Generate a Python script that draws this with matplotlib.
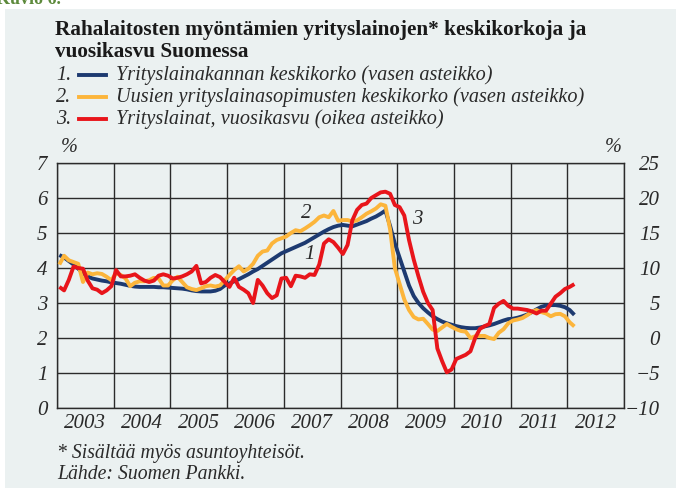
import numpy as np
import matplotlib.pyplot as plt
from matplotlib.lines import Line2D
from matplotlib.patches import Rectangle

# Kuukausiaineisto 1/2003 - 2/2012
# 1. Yrityslainakannan keskikorko (vasen asteikko)
blue = [4.37, 4.30, 4.20, 4.10, 3.98, 3.86, 3.76, 3.70, 3.67, 3.64, 3.62, 3.59,
        3.57, 3.55, 3.52, 3.49, 3.47, 3.46, 3.46, 3.46, 3.46, 3.45, 3.45, 3.44,
        3.43, 3.42, 3.41, 3.39, 3.36, 3.34, 3.33, 3.33, 3.33, 3.35, 3.40, 3.50,
        3.56, 3.62, 3.68, 3.75, 3.82, 3.90, 3.97, 4.06, 4.15, 4.24, 4.33, 4.42,
        4.48, 4.54, 4.60, 4.66, 4.72, 4.80, 4.88, 4.96, 5.04, 5.11, 5.17, 5.21,
        5.23, 5.21, 5.19, 5.24, 5.29, 5.34, 5.41, 5.47, 5.55, 5.64, 5.20, 4.70,
        4.30, 3.90, 3.50, 3.20, 3.00, 2.85, 2.73, 2.62, 2.54, 2.47, 2.42, 2.38,
        2.34, 2.31, 2.29, 2.28, 2.28, 2.30, 2.33, 2.36, 2.40, 2.45, 2.50, 2.54,
        2.55, 2.58, 2.62, 2.67, 2.74, 2.82, 2.89, 2.93, 2.94, 2.94, 2.92, 2.88,
        2.80, 2.66]

# 2. Uusien yrityslainasopimusten keskikorko (vasen asteikko)
yellow = [4.10, 4.35, 4.22, 4.17, 4.12, 3.60, 3.87, 3.82, 3.85, 3.83, 3.75, 3.65,
          3.85, 3.80, 3.70, 3.48, 3.58, 3.62, 3.62, 3.65, 3.72, 3.70, 3.50, 3.50,
          3.65, 3.75, 3.60, 3.45, 3.40, 3.37, 3.42, 3.48, 3.50, 3.47, 3.50, 3.65,
          3.80, 3.94, 4.05, 3.90, 3.98, 4.12, 4.35, 4.47, 4.50, 4.70, 4.80, 4.85,
          4.90, 5.00, 5.08, 5.05, 5.13, 5.22, 5.32, 5.45, 5.50, 5.45, 5.63, 5.35,
          5.37, 5.37, 5.33, 5.36, 5.45, 5.55, 5.62, 5.70, 5.82, 5.78, 5.10, 4.00,
          3.55, 3.10, 2.80, 2.60, 2.53, 2.55, 2.40, 2.24, 2.20, 2.30, 2.40, 2.32,
          2.25, 2.20, 2.18, 2.00, 2.05, 2.06, 2.06, 2.00, 1.97, 2.15, 2.25, 2.42,
          2.50, 2.53, 2.57, 2.65, 2.75, 2.80, 2.74, 2.70, 2.62, 2.68, 2.69, 2.62,
          2.45, 2.33]

# 3. Yrityslainat, vuosikasvu (oikea asteikko)
red = [7.3, 6.8, 8.3, 10.2, 10.0, 9.9, 8.2, 7.1, 6.9, 6.4, 6.8, 7.4,
       9.7, 8.8, 8.8, 8.9, 9.1, 8.6, 8.2, 8.0, 8.2, 8.9, 9.1, 8.9,
       8.5, 8.6, 8.8, 9.1, 9.5, 10.3, 7.8, 8.0, 8.6, 9.0, 8.7, 8.0,
       7.3, 8.6, 7.3, 6.9, 6.4, 5.0, 8.3, 7.5, 6.4, 5.7, 6.1, 8.5,
       8.6, 7.4, 8.9, 8.8, 8.6, 9.1, 9.0, 10.5, 13.5, 14.1, 13.7, 12.9,
       12.0, 13.3, 16.8, 18.3, 19.0, 19.2, 20.0, 20.4, 20.8, 20.9, 20.6, 19.0,
       18.7, 17.5, 14.0, 11.2, 8.8, 6.6, 5.0, 4.0, -1.5, -3.3, -4.9, -4.5,
       -3.0, -2.7, -2.4, -1.9, 0.0, 1.3, 1.7, 2.0, 4.3, 4.9, 5.3, 4.6,
       4.2, 4.2, 4.1, 4.0, 3.8, 3.5, 3.9, 3.9, 4.9, 5.9, 6.4, 7.0,
       7.3, 7.7]

years = list(range(2003, 2013))
left_ticks = list(range(0, 8))
right_ticks = list(range(-10, 30, 5))

title = ["Rahalaitosten myöntämien yrityslainojen* keskikorkoja ja",
         "vuosikasvu Suomessa"]
labels = ["Yrityslainakannan keskikorko (vasen asteikko)",
          "Uusien yrityslainasopimusten keskikorko (vasen asteikko)",
          "Yrityslainat, vuosikasvu (oikea asteikko)"]
notes = ["* Sisältää myös asuntoyhteisöt.", "Lähde: Suomen Pankki."]

c_blue = '#1d3a70'
c_yellow = '#fcb53b'
c_red = '#e8151b'
bg = '#ebf1f1'
grid_c = '#2b2b2b'
txt_c = '#2a2a2a'
fs = 14.6  # tekstien koko

plt.rcParams['font.family'] = ['Liberation Serif', 'DejaVu Serif']

W, H = 676, 488
fig = plt.figure(figsize=(W / 100, H / 100), dpi=100)
fig.patch.set_facecolor('white')
fig.add_artist(Rectangle((5 / W, 0), 1, 1 - 9 / H, transform=fig.transFigure,
                         facecolor=bg, edgecolor='none', zorder=-10))


def px(x, y):
    return x / W, 1 - y / H


# ylhäältä leikkautuva kuvion otsikko
fig.text(*px(-4, -1), "Kuvio 6.", color='#5d8a3c', fontsize=13,
         fontweight='bold', va='center', ha='left')

t = 2003 + (np.arange(len(blue)) + 0.5) / 12

ax = fig.add_axes([57 / W, 1 - 408 / H, (624 - 57) / W, (408 - 163) / H])
ax.set_facecolor(bg)
ax.plot(t, blue, color=c_blue, lw=2.8, solid_capstyle='butt', zorder=3)
ax.plot(t, yellow, color=c_yellow, lw=2.8, solid_capstyle='butt', zorder=4)
ax.set_xlim(2003, 2013)
ax.set_ylim(0, 7)
ax.set_xticks(range(2003, 2014))
ax.set_xticklabels([])
ax.set_xticks([y + 0.5 for y in years], minor=True)
ax.set_xticklabels([str(y) for y in years], minor=True)
ax.set_yticks(left_ticks)
ax.set_yticklabels([str(v) for v in left_ticks])
ax.tick_params(which='both', length=0, labelsize=15, colors=txt_c)
ax.tick_params(axis='x', which='minor', pad=4)
ax.tick_params(axis='y', pad=7)
for lab in ax.get_xticklabels(minor=True) + ax.get_yticklabels():
    lab.set_fontstyle('italic')
ax.grid(True, which='major', color=grid_c, lw=1.0)
for s in ax.spines.values():
    s.set_color(grid_c)
    s.set_linewidth(1.0)

ax2 = ax.twinx()
ax2.plot(t, red, color=c_red, lw=2.8, solid_capstyle='butt', zorder=5)
ax2.set_ylim(-10, 25)
ax2.set_yticks(right_ticks)
ax2.set_yticklabels([str(v).replace('-', '\u2212') for v in right_ticks])
ax2.tick_params(length=0, labelsize=15, colors=txt_c, pad=26)
for lab in ax2.get_yticklabels():
    lab.set_fontstyle('italic')
    lab.set_horizontalalignment('right')
for s in ax2.spines.values():
    s.set_visible(False)

# sarjojen numerot
ax.text(2007.4, 5.55, "2", fontsize=15, style='italic', color=txt_c, ha='center', va='center')
ax.text(2007.45, 4.4, "1", fontsize=15, style='italic', color=txt_c, ha='center', va='center')
ax.text(2009.35, 5.4, "3", fontsize=15, style='italic', color=txt_c, ha='center', va='center')

# otsikko ja selitteet
fig.text(*px(55, 35), title[0], fontsize=15.35, fontweight='bold', color='#1a1a1a',
         ha='left', va='baseline')
fig.text(*px(55, 57), title[1], fontsize=15.35, fontweight='bold', color='#1a1a1a',
         ha='left', va='baseline')
colors = [c_blue, c_yellow, c_red]
for i, (lab, c) in enumerate(zip(labels, colors)):
    yb = 80 + i * 22
    fig.text(*px(56, yb), f"{i + 1}.", fontsize=fs, style='italic', color=txt_c,
             ha='left', va='baseline')
    x0, y0 = px(79, yb - 5)
    x1, _ = px(106, yb - 5)
    fig.add_artist(Line2D([x0, x1], [y0, y0], transform=fig.transFigure,
                          color=c, lw=2.8))
    fig.text(*px(116, yb), lab, fontsize=fs, style='italic', color=txt_c,
             ha='left', va='baseline')

fig.text(*px(61, 152), "%", fontsize=fs, style='italic', color=txt_c, ha='left', va='baseline')
fig.text(*px(605, 152), "%", fontsize=fs, style='italic', color=txt_c, ha='left', va='baseline')

fig.text(*px(57, 458), notes[0], fontsize=14.2, style='italic', color=txt_c, ha='left', va='baseline')
fig.text(*px(57, 479), notes[1], fontsize=14.2, style='italic', color=txt_c, ha='left', va='baseline')

fig.savefig('out.png', dpi=100, facecolor=fig.get_facecolor())
